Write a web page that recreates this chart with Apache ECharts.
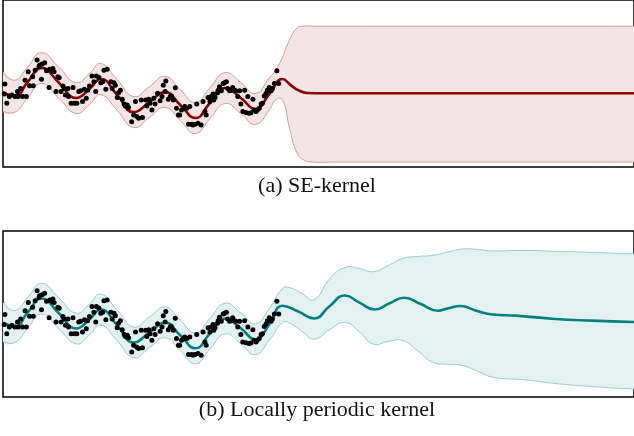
<!DOCTYPE html>
<html><head><meta charset="utf-8">
<script src="https://cdn.jsdelivr.net/npm/echarts@6/dist/echarts.min.js"></script>
<style>html,body{margin:0;padding:0;background:#fff}#c{width:634px;height:436px}</style>
</head><body><div id="c"></div>
<script>
// ---- observations (shared by both panels) ----
var ptX = [0.03,0.02,0.06,0.10,0.14,0.19,0.23,0.24,0.28,0.31,0.35,0.37,0.40,0.42,0.47,0.48,0.51,0.54,0.57,0.58,0.61,0.62,0.66,0.69,0.73,0.74,0.78,0.79,0.81,0.84,0.87,0.89,0.92,0.95,0.97,0.99,1.03,1.04,1.08,1.11,1.13,1.17,1.20,1.23,1.26,1.29,1.32,1.34,1.37,1.41,1.44,1.47,1.48,1.52,1.55,1.58,1.60,1.63,1.65,1.71,1.73,1.76,1.78,1.81,1.83,1.86,1.89,1.92,1.94,1.97,1.99,2.04,2.07,2.10,2.12,2.15,2.19,2.21,2.26,2.28,2.31,2.33,2.36,2.39,2.41,2.45,2.49,2.52,2.54,2.57,2.58,2.62,2.65,2.67,2.70,2.73,2.75,2.78,2.80,2.83,2.86,2.88,2.91,2.94,2.96,2.99,3.01,3.04,3.07,3.09,3.14,3.17,3.20,3.22,3.25,3.28,3.30,3.33,3.34,3.36,3.40,3.41,3.43,3.46,3.49,3.51,3.54,3.56,3.59,3.62,3.64,3.67,3.69,3.72,3.75,3.77,3.80,3.83,3.85,3.88,3.90,3.93,3.96,3.98,4.01,4.03,4.06,4.09,4.11,4.14,4.17,4.19,4.22,4.23,4.25,4.27,4.30,4.34,4.37];
var ptY = [0.33,-0.03,-0.36,-0.12,-0.06,-0.12,0.06,-0.12,0.17,-0.12,0.47,-0.12,0.77,0.27,0.59,0.27,0.83,1.19,0.95,1.01,0.50,1.05,1.10,0.81,0.21,0.86,0.81,0.89,0.77,0.06,0.59,0.56,0.06,0.26,0.17,-0.06,0.17,-0.12,-0.36,0.21,-0.36,-0.36,0.06,0.09,-0.30,0.14,-0.18,0.11,0.26,0.62,0.41,0.06,0.62,0.57,0.38,0.41,0.83,0.14,0.86,0.41,0.17,0.38,0.29,-0.15,0.02,0.11,-0.22,-0.39,-0.46,-0.42,-0.51,-1.02,-0.78,-0.30,-0.84,-0.90,-0.24,-0.87,-0.24,-0.46,-0.22,-0.36,-0.60,-0.18,-0.39,0.00,-0.27,-0.12,0.29,0.06,0.44,-0.22,-0.12,-0.10,-0.24,0.20,-0.54,-0.78,-0.78,-0.60,-0.54,-0.48,-0.54,-1.11,-0.48,-1.11,-1.14,-1.11,-0.39,-1.08,-1.14,-0.30,-0.66,-0.78,-0.15,-0.30,-0.12,-0.03,-0.24,-0.15,0.02,0.11,0.23,0.09,0.35,0.38,0.41,0.17,0.09,0.11,0.21,0.11,0.09,-0.12,0.09,-0.39,-0.66,0.11,-0.69,-0.12,-0.72,-0.70,-0.22,-0.60,-0.66,-0.60,-0.54,-0.39,-0.36,-0.10,0.00,0.11,0.21,0.11,0.09,0.17,0.35,0.81,0.35];

// ---- posterior mean & band over the observed region (same in both panels) ----
var fitX  = [0,0.19,0.39,0.61,0.89,1.16,1.37,1.55,1.81,2.07,2.32,2.57,2.81,3.05,3.28,3.52,3.77,4.00,4.22];
var fitMean = [0.04,-0.10,0.40,0.91,0.37,-0.17,0.15,0.51,-0.06,-0.68,-0.32,0.04,-0.42,-0.89,-0.35,0.19,-0.17,-0.57,-0.03];
var fitUp = [0.73,0.47,0.94,1.46,0.92,0.38,0.71,1.07,0.49,-0.12,0.24,0.60,0.13,-0.33,0.20,0.74,0.38,-0.01,0.55];
var fitLo = [-0.64,-0.68,-0.17,0.35,-0.19,-0.73,-0.41,-0.05,-0.62,-1.23,-0.87,-0.51,-0.98,-1.45,-0.91,-0.37,-0.73,-1.12,-0.60];

// ---- (a) SE kernel extrapolation ----
var seMeanX = [4.43,4.56,4.68,4.82,5.1,6,7,8,9,10];
var seMeanY = [0.51,0.29,0.11,0.01,0,0,0,0,0,0];
var seBandX = [4.32,4.43,4.54,4.66,4.77,4.90,5.29,6.23,7.80,9.0,10,10.6,11.2];
var seBandUp = [0.83,1.30,1.91,2.34,2.41,2.41,2.41,2.41,2.41,2.41,2.41,2.41,2.41];
var seBandLo = [-0.24,-0.24,-1.25,-2.15,-2.40,-2.47,-2.47,-2.47,-2.47,-2.47,-2.47,-2.47,-2.47];

// ---- (b) locally periodic kernel extrapolation ----
var lpMeanX = [4.43,4.68,4.93,5.17,5.42,5.65,5.89,6.12,6.36,6.62,6.89,7.06,7.25,7.50,7.76,8.12,8.70,9.32,10];
var lpMeanY = [0.65,0.44,0.19,0.62,1.02,0.76,0.51,0.73,0.94,0.71,0.47,0.56,0.64,0.47,0.33,0.29,0.18,0.11,0.06];
var lpBandX = [4.43,4.55,4.74,4.93,5.18,5.42,5.64,5.87,6.11,6.34,6.58,6.81,7.05,7.28,7.52,7.76,8.27,8.79,9.32,10,10.6,11.2];
var lpBandUp = [1.27,1.30,1.09,0.87,1.63,2.03,2.00,1.88,2.11,2.36,2.43,2.47,2.59,2.70,2.68,2.63,2.65,2.61,2.58,2.52,2.50,2.50];
var lpBandLo = [0.04,0.01,-0.28,-0.56,-0.21,0.04,-0.28,-0.74,-0.64,-0.61,-1.00,-1.39,-1.47,-1.51,-1.72,-1.93,-2.03,-2.17,-2.27,-2.36,-2.38,-2.38];

var captions = ['(a) SE-kernel', '(b) Locally periodic kernel'];

function zip(a, b) { var r = []; for (var i = 0; i < Math.min(a.length, b.length); i++) r.push([a[i], b[i]]); return r; }

function bandRender(xs, up, lo, fill, stroke) {
  return function (params, api) {
    var cs = params.coordSys;
    var top = [], bot = [];
    for (var i = 0; i < xs.length; i++) {
      top.push(api.coord([xs[i], up[i]]));
      bot.push(api.coord([xs[i], lo[i]]));
    }
    var poly = top.concat(bot.slice().reverse());
    var cons = [[cs.x, cs.y - 300], [cs.x + cs.width + 400, cs.y + cs.height + 300]];
    return {
      type: 'group',
      children: [
        { type: 'polygon', shape: { points: poly, smooth: 0.5, smoothConstraint: cons }, style: { fill: fill, stroke: 'none' } },
        { type: 'polyline', shape: { points: top, smooth: 0.5 }, style: { fill: 'none', stroke: stroke, lineWidth: 1 } },
        { type: 'polyline', shape: { points: bot, smooth: 0.5 }, style: { fill: 'none', stroke: stroke, lineWidth: 1 } }
      ]
    };
  };
}

function panel(idx, meanX, meanY, bX, bUp, bLo, lineColor, fill, stroke) {
  var xs = fitX.concat(bX), up = fitUp.concat(bUp), lo = fitLo.concat(bLo);
  return [
    { type: 'custom', xAxisIndex: idx, yAxisIndex: idx, silent: true, z: 1, data: [[0, 0]],
      renderItem: bandRender(xs, up, lo, fill, stroke) },
    { type: 'line', xAxisIndex: idx, yAxisIndex: idx, z: 3, smooth: 0.5, showSymbol: false, silent: true,
      data: zip(fitX.concat(meanX), fitMean.concat(meanY)),
      lineStyle: { color: lineColor, width: 2.6 } },
    { type: 'scatter', xAxisIndex: idx, yAxisIndex: idx, z: 4, silent: true, symbolSize: 5,
      itemStyle: { color: '#000', opacity: 1 }, data: zip(ptX, ptY) }
  ];
}

var chart = echarts.init(document.getElementById('c'), null, { renderer: 'canvas' });
var capStyle = { fontFamily: 'Liberation Serif', fontSize: 22, fontWeight: 'normal', color: '#111' };
chart.setOption({
  animation: false,
  backgroundColor: '#fff',
  title: [
    { text: captions[0], left: 'center', top: 175, padding: 0, textStyle: capStyle },
    { text: captions[1], left: 'center', top: 399, padding: 0, textStyle: capStyle }
  ],
  grid: [
    { left: 3, top: 0, width: 637, height: 167, show: true, borderColor: '#000', borderWidth: 1.5, backgroundColor: 'transparent' },
    { left: 3, top: 231, width: 637, height: 166, show: true, borderColor: '#000', borderWidth: 1.5, backgroundColor: 'transparent' }
  ],
  xAxis: [
    { gridIndex: 0, type: 'value', min: 0, max: 10, show: false },
    { gridIndex: 1, type: 'value', min: 0, max: 10, show: false }
  ],
  yAxis: [
    { gridIndex: 0, type: 'value', min: -2.65, max: 3.35, show: false },
    { gridIndex: 1, type: 'value', min: -2.65, max: 3.35, show: false }
  ],
  series: [].concat(
    panel(0, seMeanX, seMeanY, seBandX, seBandUp, seBandLo, '#8b0000', '#f3e4e5', '#d49c9d'),
    panel(1, lpMeanX, lpMeanY, lpBandX, lpBandUp, lpBandLo, '#008080', '#e4f1f1', '#98cdcc')
  )
});
</script>
</body></html>
